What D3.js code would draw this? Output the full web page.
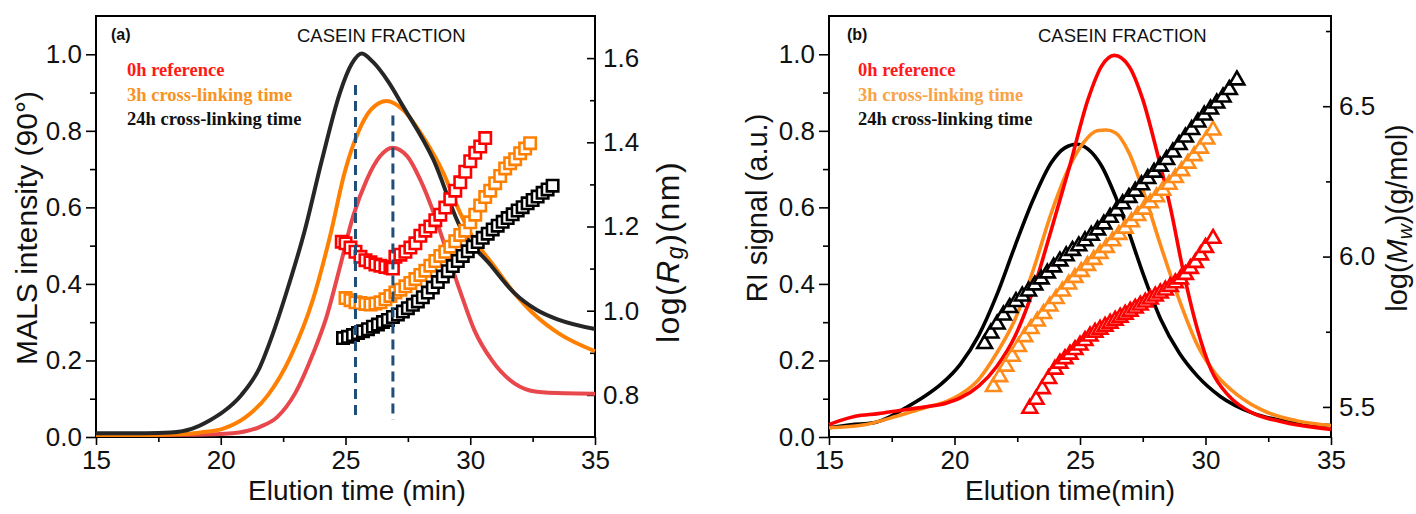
<!DOCTYPE html>
<html><head><meta charset="utf-8">
<script src="https://d3js.org/d3.v7.min.js"></script>
<style>
html,body{margin:0;padding:0;background:#fff;}
svg{display:block;}
</style></head>
<body>
<svg id="chart" width="1416" height="514"></svg>
<script>
// ---------------- DATA ----------------
const xTicks = [15, 20, 25, 30, 35];
const xMinorTicks = [17.5, 22.5, 27.5, 32.5];
const leftTicks = [0.0, 0.2, 0.4, 0.6, 0.8, 1.0];
const leftMinorTicks = [0.1, 0.3, 0.5, 0.7, 0.9];
const rgTicks = [0.8, 1.0, 1.2, 1.4, 1.6];
const rgMinorTicks = [0.9, 1.1, 1.3, 1.5];
const mwTicks = [5.5, 6.0, 6.5];
const mwMinorTicks = [5.75, 6.25, 6.75];
const legendLabels = ["0h reference", "3h cross-linking time", "24h cross-linking time"];

// Panel (a): MALS intensity (90°) vs elution time
const mals0h = [[15,0.005],[17,0.005],[19,0.006],[20.47,0.01],[21.55,0.026],[22.26,0.052],[22.98,0.114],[23.7,0.218],[24.24,0.314],[24.78,0.445],[25.3,0.576],[25.85,0.672],[26.39,0.734],[26.88,0.756],[27.47,0.734],[28.0,0.672],[28.54,0.585],[29.08,0.48],[29.62,0.376],[30.16,0.28],[30.87,0.2],[31.77,0.14],[32.67,0.118],[33.8,0.114],[35,0.113]];
const mals3h = [[15,0.005],[17,0.005],[18.3,0.007],[19.2,0.012],[20.1,0.022],[21.0,0.052],[21.9,0.11],[22.8,0.21],[23.7,0.36],[24.4,0.53],[24.96,0.69],[25.5,0.795],[26.03,0.856],[26.65,0.878],[27.29,0.856],[28.18,0.777],[28.92,0.69],[29.59,0.586],[30.16,0.515],[30.87,0.454],[31.77,0.376],[32.67,0.314],[33.56,0.27],[35,0.224]];
const mals24h = [[15,0.01],[17,0.01],[18.0,0.012],[18.86,0.022],[19.57,0.044],[20.1,0.066],[20.83,0.11],[21.55,0.18],[22.09,0.27],[22.62,0.375],[23.34,0.533],[24.06,0.725],[24.78,0.9],[25.25,0.975],[25.65,1.002],[26.1,0.98],[26.7,0.93],[27.3,0.865],[28.52,0.725],[29.59,0.55],[30.87,0.445],[31.77,0.376],[32.67,0.332],[33.56,0.306],[35,0.282]];
const dashedMarkers = [[25.4, 0.92], [26.9, 0.84]];
const dashedBottom = 0.045;

// Panel (a): log(Rg) squares
const rg0h = [[24.85,1.164],[25.0,1.16],[25.2,1.15],[25.4,1.14],[25.6,1.128],[25.8,1.12],[26.0,1.115],[26.2,1.11],[26.4,1.107],[26.6,1.104],[26.8,1.102],[26.9,1.1],[27.0,1.128],[27.2,1.133],[27.4,1.14],[27.6,1.15],[27.8,1.16],[28.0,1.178],[28.2,1.19],[28.4,1.2],[28.6,1.215],[28.8,1.228],[29.0,1.245],[29.2,1.265],[29.4,1.285],[29.6,1.305],[29.8,1.33],[30.0,1.355],[30.2,1.375],[30.4,1.39],[30.6,1.41]];
const rg3h = [[25.0,1.03],[25.2,1.025],[25.4,1.02],[25.6,1.018],[25.8,1.016],[26.0,1.015],[26.2,1.017],[26.4,1.02],[26.6,1.027],[26.8,1.035],[27.0,1.043],[27.2,1.05],[27.4,1.058],[27.6,1.066],[27.8,1.075],[28.0,1.085],[28.2,1.095],[28.4,1.107],[28.6,1.118],[28.8,1.13],[29.0,1.14],[29.2,1.152],[29.4,1.165],[29.6,1.18],[29.8,1.19],[30.0,1.21],[30.2,1.228],[30.4,1.25],[30.6,1.27],[30.8,1.285],[31.0,1.303],[31.2,1.32],[31.4,1.338],[31.6,1.35],[31.8,1.36],[32.0,1.374],[32.2,1.385],[32.4,1.398]];
const rg24h = [[24.9,0.935],[25.1,0.938],[25.3,0.942],[25.5,0.947],[25.7,0.951],[25.9,0.956],[26.1,0.962],[26.3,0.967],[26.5,0.973],[26.7,0.978],[26.9,0.985],[27.1,0.991],[27.3,0.998],[27.5,1.006],[27.7,1.014],[27.9,1.022],[28.1,1.032],[28.3,1.043],[28.5,1.055],[28.7,1.068],[28.9,1.081],[29.1,1.094],[29.3,1.106],[29.5,1.118],[29.7,1.13],[29.9,1.141],[30.1,1.152],[30.3,1.163],[30.5,1.173],[30.7,1.183],[30.9,1.193],[31.1,1.202],[31.3,1.211],[31.5,1.22],[31.7,1.229],[31.9,1.238],[32.1,1.246],[32.3,1.255],[32.5,1.263],[32.7,1.271],[32.9,1.28],[33.1,1.288],[33.3,1.297]];

// Panel (b): RI signal vs elution time
const ri0h = [[15,0.032],[15.5,0.044],[16.05,0.054],[16.96,0.061],[17.87,0.07],[18.78,0.078],[19.69,0.089],[20.23,0.102],[20.96,0.133],[21.69,0.185],[22.41,0.263],[23.14,0.385],[23.86,0.542],[24.59,0.708],[25.32,0.882],[25.86,0.969],[26.37,0.997],[26.95,0.969],[27.5,0.882],[28.04,0.752],[28.59,0.603],[29.13,0.429],[29.68,0.281],[30.22,0.176],[30.95,0.106],[31.86,0.063],[32.95,0.041],[35,0.02]];
const ri3h = [[15,0.024],[16.42,0.032],[17.69,0.054],[18.78,0.076],[19.69,0.093],[20.23,0.111],[20.96,0.15],[21.69,0.22],[22.41,0.307],[23.14,0.437],[23.86,0.586],[24.59,0.708],[25.14,0.769],[25.68,0.8],[26.04,0.802],[26.41,0.795],[26.95,0.743],[27.5,0.647],[28.22,0.499],[28.95,0.359],[29.68,0.24],[30.4,0.165],[31.31,0.108],[32.4,0.066],[33.67,0.042],[35,0.03]];
const ri24h = [[15,0.024],[15.87,0.032],[16.78,0.037],[17.33,0.05],[18.05,0.076],[18.78,0.105],[19.5,0.14],[20.23,0.19],[20.96,0.265],[21.69,0.372],[22.41,0.499],[23.14,0.621],[23.86,0.717],[24.41,0.756],[24.86,0.765],[25.32,0.752],[25.86,0.708],[26.41,0.629],[26.95,0.534],[27.5,0.429],[28.22,0.307],[28.95,0.22],[29.68,0.159],[30.59,0.106],[31.86,0.063],[33.31,0.04],[35,0.03]];

// Panel (b): log(Mw) triangles
const mw0h = [[23.0,5.495],[23.25,5.525],[23.5,5.56],[23.75,5.594],[24.0,5.625],[24.2,5.645],[24.4,5.66],[24.6,5.675],[24.8,5.69],[25.0,5.705],[25.2,5.72],[25.4,5.735],[25.6,5.748],[25.8,5.758],[26.0,5.768],[26.2,5.778],[26.4,5.788],[26.6,5.798],[26.8,5.808],[27.0,5.818],[27.2,5.828],[27.4,5.838],[27.6,5.848],[27.8,5.858],[28.0,5.868],[28.2,5.878],[28.4,5.888],[28.6,5.9],[28.8,5.912],[29.0,5.925],[29.2,5.94],[29.4,5.96],[29.6,5.98],[29.8,6.005],[30.0,6.03],[30.3,6.06]];
const mw3h = [[21.55,5.567],[21.8,5.6],[22.05,5.635],[22.3,5.668],[22.55,5.7],[22.8,5.733],[23.05,5.76],[23.3,5.785],[23.55,5.81],[23.8,5.835],[24.05,5.86],[24.3,5.885],[24.55,5.908],[24.8,5.93],[25.05,5.95],[25.3,5.97],[25.55,5.99],[25.8,6.01],[26.05,6.03],[26.3,6.052],[26.55,6.073],[26.8,6.094],[27.05,6.115],[27.3,6.136],[27.55,6.157],[27.8,6.178],[28.05,6.198],[28.3,6.22],[28.55,6.24],[28.8,6.262],[29.05,6.285],[29.3,6.31],[29.55,6.335],[29.8,6.36],[30.05,6.39],[30.3,6.42]];
const mw24h = [[21.2,5.71],[21.45,5.745],[21.7,5.775],[21.95,5.805],[22.2,5.83],[22.45,5.85],[22.7,5.868],[22.95,5.885],[23.2,5.905],[23.45,5.925],[23.7,5.945],[23.95,5.965],[24.2,5.985],[24.45,6.002],[24.7,6.02],[24.95,6.035],[25.2,6.052],[25.45,6.07],[25.7,6.088],[25.95,6.108],[26.2,6.13],[26.45,6.152],[26.7,6.175],[26.95,6.196],[27.2,6.217],[27.45,6.238],[27.7,6.259],[27.95,6.28],[28.2,6.3],[28.45,6.322],[28.7,6.347],[28.95,6.372],[29.2,6.397],[29.45,6.422],[29.7,6.447],[29.95,6.47],[30.2,6.49],[30.45,6.51],[30.7,6.53],[30.95,6.555],[31.25,6.587]];

// ---------------- DRAW ----------------
const SANS = "'Liberation Sans', Arial, Helvetica, sans-serif";
const SERIF = "'Liberation Serif', 'Times New Roman', serif";
const svg = d3.select("#chart");
const plotTop = 16, plotBottom = 437;

function makePanel(opt) {
  const g = svg.append("g");
  const x = d3.scaleLinear().domain([15, 35]).range([opt.left, opt.right]);
  const yL = d3.scaleLinear().domain([0, 1.1]).range([plotBottom, plotTop]);
  const yR = d3.scaleLinear().domain(opt.rDomain).range([plotBottom, plotTop]);

  const gx = g.append("g").attr("transform", `translate(0,${plotBottom})`)
    .call(d3.axisBottom(x).tickValues(xTicks).tickSize(8).tickPadding(5).tickFormat(d3.format("d")));
  gx.append("g").call(d3.axisBottom(x).tickValues(xMinorTicks).tickSize(5).tickFormat(""));
  const gl = g.append("g").attr("transform", `translate(${opt.left},0)`)
    .call(d3.axisLeft(yL).tickValues(leftTicks).tickSize(10).tickPadding(4).tickFormat(d3.format(".1f")));
  gl.append("g").call(d3.axisLeft(yL).tickValues(leftMinorTicks).tickSize(6).tickFormat(""));
  const gr = g.append("g").attr("transform", `translate(${opt.right},0)`)
    .call(d3.axisRight(yR).tickValues(opt.rTicks).tickSizeInner(-8).tickSizeOuter(0).tickPadding(8).tickFormat(d3.format(".1f")));
  gr.append("g").call(d3.axisRight(yR).tickValues(opt.rMinor).tickSizeInner(-5).tickSizeOuter(0).tickFormat(""));

  g.selectAll(".domain").remove();
  g.selectAll(".tick line").attr("stroke", "#000").attr("stroke-width", 1.6);
  g.selectAll(".tick text").style("font-family", SANS).style("font-size", "26px").attr("fill", "#111");
  gx.selectAll(".tick text").attr("dy", "0.74em");

  g.append("rect").attr("x", opt.left).attr("y", plotTop)
    .attr("width", opt.right - opt.left).attr("height", plotBottom - plotTop)
    .attr("fill", "none").attr("stroke", "#000").attr("stroke-width", 2);

  return {g, x, yL, yR};
}

function drawLines(p, series, colors, width) {
  const line = d3.line().x(d => p.x(d[0])).y(d => p.yL(d[1])).curve(d3.curveMonotoneX);
  series.forEach((s, i) => {
    p.g.append("path").datum(s).attr("d", line).attr("fill", "none")
      .attr("stroke", colors[i]).attr("stroke-width", width).attr("stroke-linejoin", "round");
  });
}

function drawMarkers(p, series, colors, type, size) {
  const sym = d3.symbol().type(type).size(size);
  series.forEach((s, i) => {
    p.g.append("g").selectAll("path").data(s).join("path")
      .attr("d", sym)
      .attr("transform", d => `translate(${p.x(d[0])},${p.yR(d[1])})`)
      .attr("fill", "#fff").attr("stroke", colors[i]).attr("stroke-width", 2.6);
  });
}

function addTitles(p, opt) {
  const g = p.g;
  g.append("text").attr("x", opt.xTitleX).attr("y", 500).attr("text-anchor", "middle")
    .style("font-family", SANS).style("font-size", "28px").attr("fill", "#111").text(opt.xTitle);
  g.append("text").attr("transform", `translate(${opt.lTitleX},${opt.lTitleY}) rotate(-90)`)
    .attr("text-anchor", "middle").attr("dominant-baseline", "central")
    .style("font-family", SANS).style("font-size", opt.lTitleSize + "px").attr("fill", "#111").text(opt.lTitle);
  const rt = g.append("text").attr("transform", `translate(${opt.rTitleX},${opt.rTitleY}) rotate(-90)`)
    .attr("text-anchor", "middle").attr("dominant-baseline", "central")
    .style("font-family", SANS).style("font-size", opt.rTitleSize + "px").style("letter-spacing", opt.rSpacing + "px").attr("fill", "#111");
  rt.append("tspan").text("log(");
  rt.append("tspan").style("font-style", "italic").text(opt.rSym);
  rt.append("tspan").style("font-style", "italic").style("font-size", (opt.rTitleSize * 0.72) + "px").attr("dy", 7).text(opt.rSub);
  rt.append("tspan").attr("dy", -7).text(")" + opt.rUnit);

  g.append("text").attr("x", opt.tagX).attr("y", 40)
    .style("font-family", SANS).style("font-size", "16px").style("font-weight", "bold")
    .attr("fill", "#111").text(opt.tag);
  g.append("text").attr("x", opt.caseX).attr("y", 42)
    .style("font-family", SANS).style("font-size", "18.5px")
    .attr("fill", "#111").text("CASEIN FRACTION");
  legendLabels.forEach((t, i) => {
    g.append("text").attr("x", opt.legX).attr("y", 76 + i * 24.5)
      .style("font-family", SERIF).style("font-weight", "bold").style("font-size", "18.5px")
      .attr("fill", opt.legColors[i]).text(t);
  });
}

// Panel (a)
const pa = makePanel({left: 96, right: 595, rDomain: [0.7, 1.7], rTicks: rgTicks, rMinor: rgMinorTicks});
drawLines(pa, [mals0h, mals3h, mals24h], ["#e8474c", "#ff8000", "#262626"], 4);
drawMarkers(pa, [rg0h, rg3h, rg24h], ["#ff0000", "#ff8000", "#000000"], d3.symbolSquare, 130);
dashedMarkers.forEach(d => {
  pa.g.append("line").attr("x1", pa.x(d[0])).attr("x2", pa.x(d[0]))
    .attr("y1", pa.yL(d[1])).attr("y2", pa.yL(dashedBottom))
    .attr("stroke", "#1f4e79").attr("stroke-width", 3).attr("stroke-dasharray", "10,6");
});
addTitles(pa, {xTitle: "Elution time (min)", xTitleX: 357, lTitle: "MALS intensity (90°)", lTitleSize: 30, lTitleX: 26, lTitleY: 228,
  rTitleX: 668, rTitleY: 252, rTitleSize: 32, rSym: "R", rSub: "g", rUnit: "(nm)", rSpacing: 1.5, tag: "(a)", tagX: 111, caseX: 297, legX: 127,
  legColors: ["#ff1a1a", "#f7931e", "#111111"]});

// Panel (b)
const pb = makePanel({left: 829, right: 1331, rDomain: [5.4, 6.8], rTicks: mwTicks, rMinor: mwMinorTicks});
drawLines(pb, [ri24h, ri3h, ri0h], ["#000000", "#ff8c1a", "#ff0000"], 3.6);
drawMarkers(pb, [mw0h, mw3h, mw24h], ["#ff0000", "#ff8c1a", "#000000"], d3.symbolTriangle, 95);
addTitles(pb, {xTitle: "Elution time(min)", xTitleX: 1070, lTitle: "RI signal (a.u.)", lTitleSize: 29, lTitleX: 757, lTitleY: 208,
  rTitleX: 1397, rTitleY: 218, rTitleSize: 29, rSym: "M", rSub: "w", rUnit: "(g/mol)", rSpacing: 0, tag: "(b)", tagX: 847, caseX: 1038, legX: 858,
  legColors: ["#ff1a1a", "#f9a347", "#111111"]});
</script>
</body></html>
